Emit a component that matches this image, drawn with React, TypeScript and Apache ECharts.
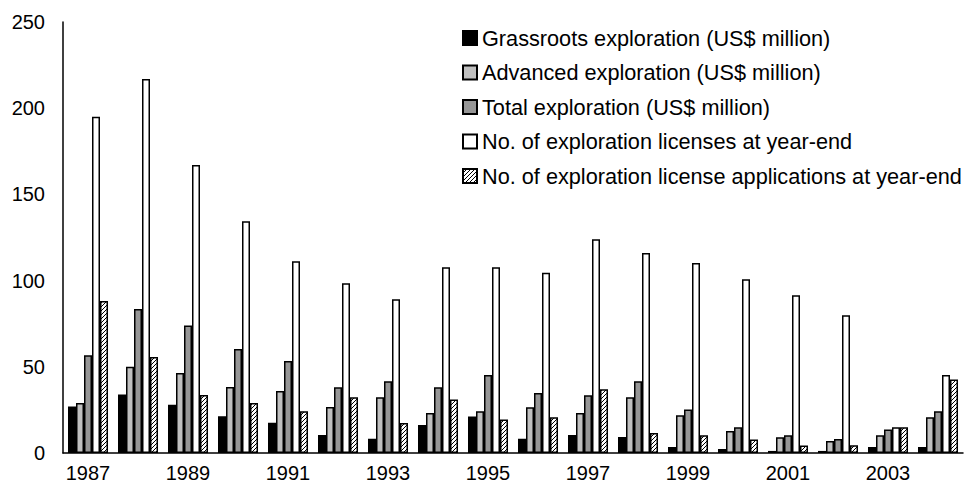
import React, { useEffect, useRef } from "react";
import * as echarts from "echarts";

const years = ["1987","1988","1989","1990","1991","1992","1993","1994","1995","1996","1997","1998","1999","2000","2001","2002","2003","2004"];
const grassroots = [27, 34, 28, 21.3, 17.6, 10.5, 8.3, 16.3, 21.1, 8.3, 10.5, 9.3, 3.5, 2.3, 1.2, 1.2, 3.5, 3.5];
const advanced = [29, 50, 46.4, 38.3, 36, 26.7, 32.3, 23.2, 24.2, 26.5, 23.2, 32.3, 21.9, 12.8, 9.1, 7, 10.3, 20.7];
const totalExp = [56.7, 83.5, 74, 60.3, 53.4, 38.1, 41.6, 38.1, 45.3, 34.8, 33.5, 41.6, 25.3, 14.9, 10.3, 8.1, 13.7, 24.2];
const licenses = [195, 217, 167, 134.4, 111.2, 98.4, 89.2, 107.7, 107.7, 104.6, 124, 116, 110.2, 100.8, 91.5, 79.9, 14.9, 45.3];
const applications = [88.2, 55.7, 33.6, 29, 24.2, 32.3, 17.4, 31.1, 19.5, 20.7, 37, 11.6, 10.3, 7.9, 4.3, 4.5, 14.9, 42.6];
const seriesNames = [
  "Grassroots exploration (US$ million)",
  "Advanced exploration (US$ million)",
  "Total exploration (US$ million)",
  "No. of exploration licenses at year-end",
  "No. of exploration license applications at year-end",
];

function makeHatch(): HTMLCanvasElement {
  const c = document.createElement("canvas");
  c.width = 4;
  c.height = 4;
  const ctx = c.getContext("2d")!;
  ctx.fillStyle = "#ffffff";
  ctx.fillRect(0, 0, 4, 4);
  ctx.fillStyle = "#000000";
  ctx.fillRect(0, 3, 1, 1);
  ctx.fillRect(1, 2, 1, 1);
  ctx.fillRect(2, 1, 1, 1);
  ctx.fillRect(3, 0, 1, 1);
  return c;
}

export default function App() {
  const ref = useRef<HTMLDivElement>(null);
  useEffect(() => {
    if (!ref.current) return;
    const chart = echarts.init(ref.current, undefined, { renderer: "svg" });
    const font = "'Liberation Sans', Arial, sans-serif";
    const hatch = { image: makeHatch(), repeat: "repeat" } as any;
    const fills: any[] = ["#000000", "#c0c0c0", "#969696", "#ffffff", hatch];
    const datasets = [grassroots, advanced, totalExp, licenses, applications];
    chart.setOption({
      animation: false,
      backgroundColor: "#ffffff",
      grid: { left: 63, right: 5, top: 22, bottom: 39, containLabel: false },
      legend: {
        orient: "vertical",
        left: 462,
        top: 27,
        padding: 0,
        icon: "rect",
        itemWidth: 14,
        itemHeight: 14,
        itemGap: 12.5,
        textStyle: { fontFamily: font, fontSize: 21.7, color: "#000", lineHeight: 21 },
        data: seriesNames,
      },
      xAxis: {
        type: "category",
        data: years,
        axisLine: { lineStyle: { color: "#000", width: 1.5 } },
        axisTick: { show: false },
        axisLabel: { interval: 1, fontFamily: font, fontSize: 20, color: "#000", margin: 10 },
      },
      yAxis: {
        type: "value",
        min: 0,
        max: 250,
        interval: 50,
        axisLine: { show: true, lineStyle: { color: "#000", width: 1.5 } },
        axisTick: { show: false },
        splitLine: { show: false },
        axisLabel: { fontFamily: font, fontSize: 20, color: "#000", margin: 18 },
      },
      series: datasets.map((d, i) => ({
        name: seriesNames[i],
        type: "bar",
        data: d,
        barGap: "0%",
        barCategoryGap: "20%",
        itemStyle: { color: fills[i], borderColor: "#000", borderWidth: 1.5 },
      })),
    });
    return () => chart.dispose();
  }, []);
  return <div ref={ref} style={{ position: "fixed", left: 0, top: 0, width: 968, height: 492 }} />;
}
